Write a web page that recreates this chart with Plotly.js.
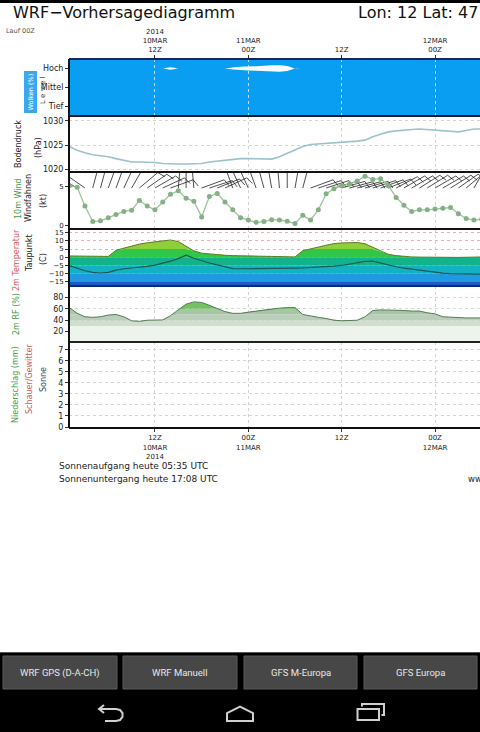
<!DOCTYPE html>
<html><head><meta charset="utf-8">
<script src="https://cdn.plot.ly/plotly-3.0.1.min.js"></script>
<style>html,body{margin:0;padding:0;background:#fff;overflow:hidden}</style>
</head><body><div id="chart" style="width:480px;height:732px"></div>
<script>
// ---------------- data ----------------
const hours = [1,2,3,4,5,6,7,8,9,10,11,12,13,14,15,16,17,18,19,20,21,22,23,24,25,26,27,28,29,30,31,32,33,34,35,36,37,38,39,40,41,42,43,44,45,46,47,48,49,50,51,52,53,54];
const tickHours = [12,24,36,48];
const tickTop = ['2014<br>10MAR<br>12Z','11MAR<br>00Z','12Z','12MAR<br>00Z'];
const tickBottom = ['12Z<br>10MAR<br>2014','00Z<br>11MAR','12Z','00Z<br>12MAR'];
const cloudLevels = ['Tief','Mittel','Hoch'];
const hochWolken = [0,0,0,0,0,0,0,0,0,0, 0,0,0,35,0,0,0,0,0,0, 0,30,50,55,60,75,90,90,70,0, 0,0,0,0,0,0,0,0,0,0, 0,0,0,0,0,0,0,0,0,0, 0,0,0,0];
const bodendruck = [1024.7,1023.9,1023.4,1023.0,1022.8,1022.6,1022.2,1021.8,1021.5,1021.5,
 1021.5,1021.4,1021.2,1021.1,1021.1,1021.1,1021.1,1021.2,1021.5,1021.7,
 1021.8,1022.0,1022.2,1022.2,1022.2,1022.1,1022.1,1022.6,1023.3,1024.0,
 1024.7,1025.1,1025.2,1025.3,1025.5,1025.6,1025.7,1025.8,1026.0,1026.7,
 1027.2,1027.7,1027.9,1028.1,1028.2,1028.3,1028.2,1028.1,1028.0,1027.9,
 1027.7,1028.0,1028.3,1028.3];
const windKt = [5.1,4.9,2.5,0.5,0.6,1.0,1.4,1.8,1.95,3.2, 2.5,2.0,3.0,4.0,4.45,3.5,3.1,1.1,3.7,4.1,
 3.0,2.0,1.0,0.7,0.4,0.5,0.75,0.7,0.55,0.25, 1.3,0.7,2.0,4.05,4.7,5.1,5.3,5.7,6.3,5.9,
 6.0,5.1,3.6,2.6,1.8,2.0,2.0,2.1,2.2,2.3, 1.5,0.9,0.7,0.8];
const windDir = [300,300,305,15,15,20,20,25,30,50, 55,60,65,70,5,0,355,70,72,68,
 65,340,335,335,340,345,350,355,0,10, 15,70,72,72,74,74,75,75,74,72,
 70,68,62,60,60,58,58,60,60,58, 55,50,30,20];
const temp2m = [0.8,0.8,0.8,0.8,0.8,0.5,4.3,5.5,7.0,8.0, 8.8,9.4,10.3,10.5,9.5,6.8,3.9,2.5,2.0,1.6,
 1.2,1.0,0.8,0.8,0.7,0.6,0.5,0.3,0.2,0.2, 4.0,5.3,6.2,7.3,8.3,8.7,9.0,9.0,8.2,6.0,
 3.5,1.8,1.0,0.5,0.2,0.1,0.0,0.0,-0.1,-0.2, -0.1,0.0,0.1,0.2];
const taupunkt = [-5.1,-6.8,-8.2,-9.2,-9.6,-9.2,-7.8,-7.0,-6.6,-6.2, -5.6,-4.8,-3.8,-2.4,-0.8,1.3,-0.6,-2.2,-3.5,-4.6,
 -5.8,-6.9,-7.0,-7.0,-6.9,-6.9,-6.8,-6.8,-6.7,-6.6, -6.5,-6.3,-6.0,-5.7,-5.4,-5.0,-4.2,-3.4,-2.5,-2.4,
 -3.6,-5.0,-5.8,-6.6,-7.3,-7.8,-8.5,-9.1,-9.7,-10.0, -10.1,-10.2,-10.3,-10.3];
const rf2m = [62,52,46,45,46,49,50,46,39,38, 40,40.5,40.5,48,58,68,72,71,66,60,
 55,52,52,54,56,58,60,61,62,62, 50,47,45,43,40,39,39,40,46,57,
 58,58,58,57,56,56,53,51,46,45, 44,44,44,44];
const niederschlag = [0,0,0,0,0,0,0,0,0,0, 0,0,0,0,0,0,0,0,0,0, 0,0,0,0,0,0,0,0,0,0, 0,0,0,0,0,0,0,0,0,0, 0,0,0,0,0,0,0,0,0,0, 0,0,0,0];
const tempTicks = [-15,-10,-5,0,5,10,15];
const pressTicks = [1020,1025,1030];
const rhTicks = [20,40,60,80];
const precTicks = [0,1,2,3,4,5,6,7];
const buttons = ['WRF GPS (D-A-CH)','WRF Manuell','GFS M-Europa','GFS Europa'];

// ---------------- layout geometry ----------------
const W = 480, H = 732;
const PX = x => x / W, PY = y => 1 - y / H;
const XL = 69;
const pan = {cloud:[59,116], press:[116,172], wind:[172,229], temp:[229,286], rh:[286,342], prec:[342,428]};
const dom = p => [PY(p[1]), PY(p[0])];
const xRange = [0.95, 53.78];
const xDom = [PX(XL), 1];
const rng = {cloud:[-0.5,2.5], press:[1019.45,1030.97], wind:[-0.45,6.85], temp:[-17.5,17.2], rh:[2,99.7], prec:[-0.09,7.7]};

const traces = [];
const base = {x: hours, xaxis:'x', hoverinfo:'skip', showlegend:false};

// clouds (high level band)
const hi = cloudLevels.indexOf('Hoch');
traces.push(Object.assign({}, base, {yaxis:'y', mode:'lines', line:{width:0, color:'#fff'}, y: hochWolken.map(c => hi - c*0.0019)}));
traces.push(Object.assign({}, base, {yaxis:'y', mode:'lines', line:{width:0, color:'#fff', shape:'spline'}, fill:'tonexty', fillcolor:'#f4fbff', y: hochWolken.map(c => hi + c*0.0019)}));
traces.push({x:[tickHours[0]], y:[0], xaxis:'x2', yaxis:'y', mode:'markers', marker:{opacity:0}, hoverinfo:'skip', showlegend:false});

// pressure
traces.push(Object.assign({}, base, {yaxis:'y2', mode:'lines', y: bodendruck, line:{color:'#9cc2cc', width:1.6}}));

// wind barbs
const pxPerH = W*(xDom[1]-xDom[0])/(xRange[1]-xRange[0]);
const pxPerKt = (pan.wind[1]-pan.wind[0])/(rng.wind[1]-rng.wind[0]);
const barbBase = 4.8, shaft = 24, feather = 8;
const bx = [], by = [];
hours.forEach((h,i) => {
  const a = windDir[i]*Math.PI/180;
  const tx = h + shaft*Math.sin(a)/pxPerH, ty = barbBase + shaft*Math.cos(a)/pxPerKt;
  const b = (windDir[i]+70)*Math.PI/180;
  bx.push(h, tx, tx + feather*Math.sin(b)/pxPerH, null);
  by.push(barbBase, ty, ty + feather*Math.cos(b)/pxPerKt, null);
});
traces.push({x:bx, y:by, xaxis:'x', yaxis:'y3', mode:'lines', line:{color:'#222', width:0.8}, hoverinfo:'skip', showlegend:false});
traces.push(Object.assign({}, base, {yaxis:'y3', mode:'lines+markers', y: windKt, line:{color:'#9cc49c', width:1.3}, marker:{color:'#84b084', size:5}}));

// temperature bands
const tEdges = [-15,-10,-5,0,5,10];
const tCols = ['#1d58c4','#1f9ae0','#13b2c2','#12b38a','#2fc64a','#8fcf3a','#c4de50'];
traces.push(Object.assign({}, base, {yaxis:'y4', mode:'lines', line:{width:0}, y: hours.map(() => rng.temp[0])}));
tEdges.forEach((e,k) => traces.push(Object.assign({}, base, {yaxis:'y4', mode:'lines', line:{width:0}, fill:'tonexty', fillcolor:tCols[k], y: temp2m.map(t => Math.min(t,e))})));
traces.push(Object.assign({}, base, {yaxis:'y4', mode:'lines', line:{width:1, color:'#5b7d22'}, fill:'tonexty', fillcolor:tCols[6], y: temp2m}));
traces.push(Object.assign({}, base, {yaxis:'y4', mode:'lines', line:{width:1.2, color:'#1d5a52'}, y: taupunkt}));

// relative humidity bands
const rEdges = [30,40,50,60];
const rCols = ['#edf4ec','#cfdecf','#bacfba','#a7c6a5','#72c262'];
traces.push(Object.assign({}, base, {yaxis:'y5', mode:'lines', line:{width:0}, y: hours.map(() => rng.rh[0])}));
rEdges.forEach((e,k) => traces.push(Object.assign({}, base, {yaxis:'y5', mode:'lines', line:{width:0}, fill:'tonexty', fillcolor:rCols[k], y: rf2m.map(r => Math.min(r,e))})));
traces.push(Object.assign({}, base, {yaxis:'y5', mode:'lines', line:{width:1, color:'#557a55'}, fill:'tonexty', fillcolor:rCols[4], y: rf2m}));

// precipitation (none)
traces.push(Object.assign({}, base, {yaxis:'y6', type:'bar', y: niederschlag, marker:{color:'#3a9a3a', line:{width:0}}}));

// ---------------- axes ----------------
const F = 'DejaVu Sans, Verdana, sans-serif';
const axFont = {family:F, size:8, color:'#222'};
const gdash = '3px,3px';
function yax(p, tv, extra) {
  return Object.assign({domain: dom(pan[p]), range: rng[p], tickvals: tv, anchor:'x', ticks:'outside', ticklen:3,
    tickcolor:'#333', tickfont: axFont, showline:false, zeroline:false, showgrid:false, fixedrange:true}, extra||{});
}
const layout = {
  width: W, height: H, margin:{l:0,r:0,t:0,b:0}, paper_bgcolor:'#fff', plot_bgcolor:'rgba(0,0,0,0)',
  showlegend:false, bargap:0.2,
  xaxis: {domain:xDom, range:xRange, anchor:'y6', tickvals:tickHours, ticktext:tickBottom, ticks:'outside', ticklen:3,
    tickcolor:'#333', tickfont:{family:F, size:7, color:'#222'}, showgrid:true, gridcolor:'#d2d2d2', griddash:gdash,
    gridwidth:1, zeroline:false, showline:false, fixedrange:true},
  xaxis2: {overlaying:'x', matches:'x', anchor:'y', side:'top', tickvals:tickHours, ticktext:tickTop, ticks:'outside', ticklen:3,
    tickcolor:'#333', tickfont:{family:F, size:7, color:'#222'}, showgrid:false, zeroline:false, showline:false},
  yaxis: yax('cloud', [0,1,2], {ticktext: cloudLevels}),
  yaxis2: yax('press', pressTicks, {showgrid:true, gridcolor:'#ddd2bd', griddash:gdash}),
  yaxis3: yax('wind', [0,5], {tickfont:{family:F, size:7, color:'#222'}}),
  yaxis4: yax('temp', tempTicks, {showgrid:true, gridcolor:'#e9b0b0', griddash:gdash, tickfont:{family:F, size:7, color:'#222'}}),
  yaxis5: yax('rh', rhTicks, {showgrid:true, gridcolor:'#d3dcd3', griddash:gdash}),
  yaxis6: yax('prec', precTicks, {showgrid:true, gridcolor:'#d4d4d4', griddash:gdash}),
  shapes: [], annotations: []
};

// shapes: panel background and frame
layout.shapes.push({type:'rect', xref:'x domain', yref:'y domain', x0:0, x1:1, y0:0, y1:1, fillcolor:'#0a9ef2', line:{width:0}, layer:'below'});
const seps = [[59,'#0b2660'],[116,'#101830'],[172,'#111'],[229,'#111'],[286,'#0a2a7a'],[342,'#222'],[428,'#111']];
seps.forEach(([y,c]) => layout.shapes.push({type:'line', xref:'paper', yref:'paper', x0:PX(XL), x1:1, y0:PY(y), y1:PY(y), line:{color:c, width:2}}));
layout.shapes.push({type:'line', xref:'paper', yref:'paper', x0:PX(XL), x1:PX(XL), y0:PY(428), y1:PY(59), line:{color:'#111', width:2}});
// top black bar
layout.shapes.push({type:'rect', xref:'paper', yref:'paper', x0:0, x1:1, y0:PY(3), y1:1, fillcolor:'#000', line:{width:0}});
// android bottom bars
layout.shapes.push({type:'rect', xref:'paper', yref:'paper', x0:0, x1:1, y0:0, y1:PY(652), fillcolor:'#000', line:{width:0}});
layout.shapes.push({type:'line', xref:'paper', yref:'paper', x0:0, x1:1, y0:PY(652.5), y1:PY(652.5), line:{color:'#555', width:1}});
const btnX = [[3,117],[123,237],[244,357],[364,477]];
btnX.forEach(([a,b],i) => {
  layout.shapes.push({type:'rect', xref:'paper', yref:'paper', x0:PX(a), x1:PX(b), y0:PY(689), y1:PY(656), fillcolor:'#474747', line:{color:'#5a5a5a', width:1}});
  layout.annotations.push({xref:'paper', yref:'paper', x:PX((a+b)/2), y:PY(672.5), text:buttons[i], showarrow:false,
    font:{family:'Roboto, sans-serif', size:9.5, color:'#e8e8e8'}, xanchor:'center', yanchor:'middle'});
});
const P = pts => pts.map(([c,x,y]) => c + ' ' + PX(x).toFixed(5) + ' ' + PY(y).toFixed(5)).join(' ');
const navLine = {color:'#d0d0d0', width:2};
layout.shapes.push({type:'path', xref:'paper', yref:'paper', path: P([['M',100,709],['L',116,709],['L',120,710],['L',122.5,713],['L',122.5,717],['L',120,720],['L',116,721],['L',105,721]]), line:navLine});
layout.shapes.push({type:'path', xref:'paper', yref:'paper', path: P([['M',104,705],['L',99,709],['L',104,713]]), line:navLine});
layout.shapes.push({type:'path', xref:'paper', yref:'paper', path: P([['M',227,721],['L',227,713],['L',240,706.5],['L',253,713],['L',253,721]]) + ' Z', line:navLine});
layout.shapes.push({type:'rect', xref:'paper', yref:'paper', x0:PX(357.5), x1:PX(379), y0:PY(720), y1:PY(709), line:navLine});
layout.shapes.push({type:'path', xref:'paper', yref:'paper', path: P([['M',362,706.5],['L',362,704],['L',384,704],['L',384,715],['L',381.5,715]]), line:navLine});

// ---------------- texts ----------------
function A(text, x, y, o) {
  layout.annotations.push(Object.assign({xref:'paper', yref:'paper', x:PX(x), y:PY(y), text, showarrow:false,
    xanchor:'left', yanchor:'middle', font:{family:F, size:8, color:'#222'}}, o||{}));
}
A('WRF\u2212Vorhersagediagramm', 11, 13, {font:{family:F, size:16, color:'#111'}});
A('Lon: 12 Lat: 47', 356, 13, {font:{family:F, size:16, color:'#111'}});
A('Lauf 00Z', 4, 31, {font:{family:F, size:6.5, color:'#555'}});
A('Sonnenaufgang heute 05:35 UTC', 57, 466, {font:{family:F, size:9, color:'#222'}});
A('Sonnenuntergang heute 17:08 UTC', 57, 479, {font:{family:F, size:9, color:'#222'}});
A('ww', 466, 479, {font:{family:F, size:8.5, color:'#222'}});
const rot = (text, x, y, color, size, extra) => A(text, x, y, Object.assign({textangle:-90, xanchor:'center', font:{family:F, size:size||8, color}}, extra||{}));
rot('Wolken (%)', 30.5, 92, '#ffffff', 6.5, {bgcolor:'#3aa8ee', borderpad:2});
rot('L e v e l', 43, 90, '#333', 7);
rot('Bodendruck', 18, 144, '#222');
rot('(hPa)', 38, 148, '#222');
rot('10m Wind', 18, 199, '#3f9a3f');
rot('Windfahnen', 29, 198, '#222');
rot('(kt)', 43, 201, '#222');
rot('2m Temperatur', 17, 260, '#cc5a5a');
rot('Taupunkt', 29, 253, '#222');
rot('(C)', 43, 259, '#222');
rot('2m RF (%)', 17, 314, '#3f9a3f');
rot('Niederschlag (mm)', 15, 385, '#3f9a3f');
rot('Schauer/Gewitter', 29, 379, '#cc5a5a');
rot('Sonne', 43, 380, '#3a4a66');

Plotly.newPlot('chart', traces, layout, {staticPlot:true, displayModeBar:false});
</script>
</body></html>
